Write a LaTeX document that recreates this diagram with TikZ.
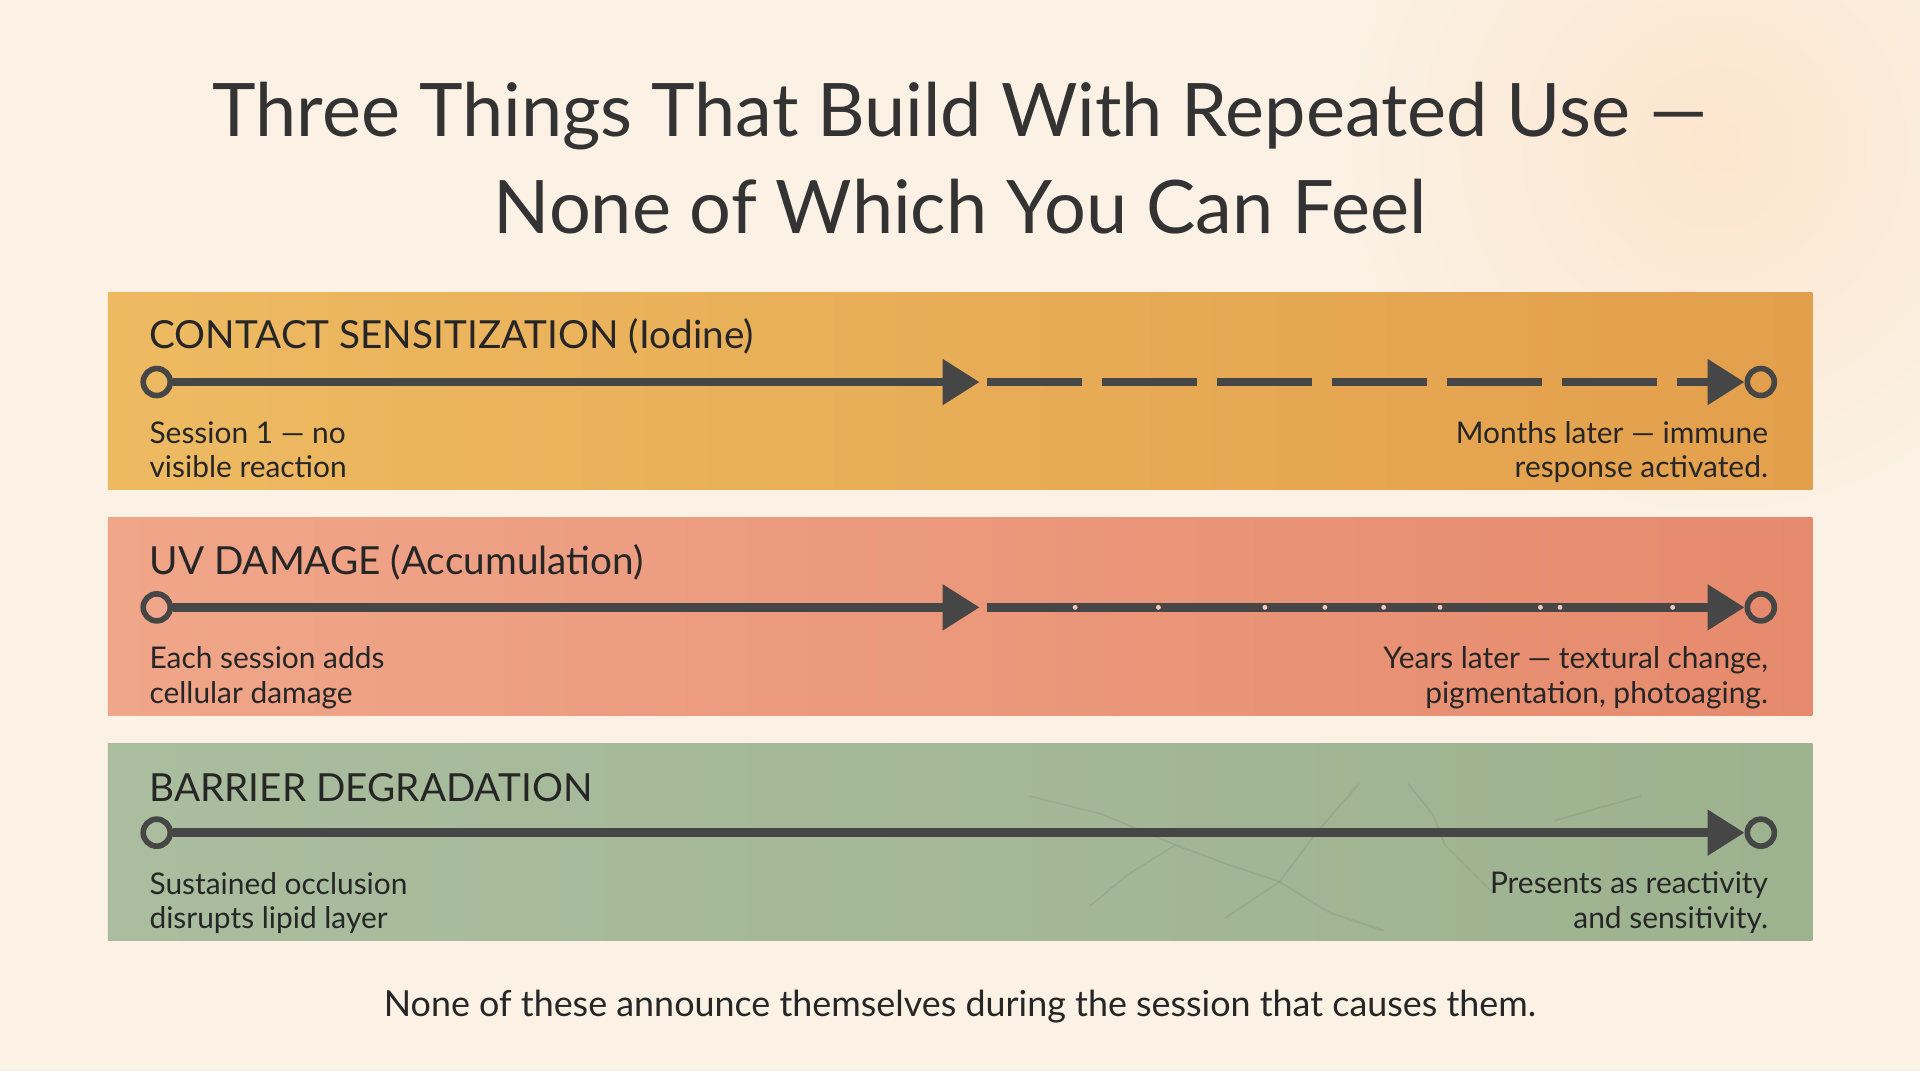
\documentclass[tikz,border=0pt]{standalone}
\usepackage{fontspec}
\setmainfont{Lato}
\usetikzlibrary{arrows.meta,positioning}
\definecolor{cream}{HTML}{FBF1E4}
\definecolor{ink}{HTML}{464646}
\definecolor{orangeA}{HTML}{EDBA62}
\definecolor{orangeB}{HTML}{E39F4C}
\definecolor{salmonA}{HTML}{F0A68A}
\definecolor{salmonB}{HTML}{E68A6D}
\definecolor{sageA}{HTML}{AABE9F}
\definecolor{sageB}{HTML}{9DB28F}
\def\xl{88}
\def\xr{1480}
\tikzset{
  heading/.style={anchor=west,font=\fontsize{11}{13}\selectfont,text=black!85},
  note/.style={font=\fontsize{8.5}{9.8}\selectfont,text=black!85,align=left,anchor=north west},
  rnote/.style={note,align=right,anchor=north east},
  track/.style={ink,line width=2.4pt},
  tip/.style={-{Triangle[length=3.7mm,width=4.4mm]}},
  dot/.style={circle,draw=ink,line width=1.6pt,minimum size=2.7mm,inner sep=0pt},
}
\begin{document}
\begin{tikzpicture}[x=0.012245cm,y=-0.012245cm]
\useasboundingbox (0,0) rectangle (1568,875);
\fill[cream] (0,0) rectangle (1568,875);
\shade[inner color=orange!25,outer color=cream,opacity=0.6] (1400,120) circle (300);

% Title
\node[font=\fontsize{21}{27.5}\selectfont,text=black!80,align=center] (title) at (784,129)
  {Three Things That Build With Repeated Use —\\None of Which You Can Feel};

% Bands
\shade[left color=orangeA,right color=orangeB] (\xl,239) rectangle (\xr,400);
\shade[left color=salmonA,right color=salmonB] (\xl,423) rectangle (\xr,584);
\shade[left color=sageA,right color=sageB] (\xl,607) rectangle (\xr,768);

% faint cracks
\foreach \a/\b/\c/\d in {840/650/900/665, 900/665/960/690, 960/690/1000/705, 1000/705/1045/720, 1045/720/1075/680, 1075/680/1110/640, 1045/720/1085/745, 1085/745/1130/760, 1045/720/1000/750, 960/690/920/715, 920/715/890/740, 1150/640/1170/665, 1170/665/1180/690, 1180/690/1220/730, 1270/670/1340/650}
  \draw[ink,opacity=0.1,line width=0.5pt] (\a,\b) -- (\c,\d);

% Band 1
\node[heading] (h1) at (112,275) {CONTACT SENSITIZATION (Iodine)};
\node[dot,fill=orangeA] (s1) at (128,312) {};
\node[dot,fill=orangeB] (e1) at (1438,312) {};
\coordinate (m1) at (800,312);
\coordinate (k1) at (806,312);
\coordinate (t1) at (1398,312);
\draw[track,tip] (s1) -- (m1);
\draw[track,dash pattern=on 0.95cm off 0.2cm] (k1) -- (t1);
\draw[track,tip] (t1) -- (e1);
\node[note] (l1) at (112,334) {Session 1 — no\\visible reaction};
\node[rnote] (r1) at (1454,334) {Months later — immune\\response activated.};

% Band 2
\node[heading] (h2) at (112,459) {UV DAMAGE (Accumulation)};
\node[dot,fill=salmonA] (s2) at (128,496) {};
\node[dot,fill=salmonB] (e2) at (1438,496) {};
\coordinate (m2) at (800,496);
\coordinate (k2) at (806,496);
\draw[track,tip] (s2) -- (m2);
\draw[track,tip] (k2) -- (e2);
\foreach \x in {878,946,1033,1082,1130,1176,1258,1274,1366}
  \fill[salmonA!60!white] (\x,496) circle (2);
\node[note] (l2) at (112,518) {Each session adds\\cellular damage};
\node[rnote] (r2) at (1454,518) {Years later — textural change,\\pigmentation, photoaging.};

% Band 3
\node[heading] (h3) at (112,643) {BARRIER DEGRADATION};
\node[dot,fill=sageA] (s3) at (128,680) {};
\node[dot,fill=sageB] (e3) at (1438,680) {};
\draw[track,tip] (s3) -- (e3);
\node[note] (l3) at (112,702) {Sustained occlusion\\disrupts lipid layer};
\node[rnote] (r3) at (1454,702) {Presents as reactivity\\and sensitivity.};

% Footer
\node[font=\fontsize{10.2}{12}\selectfont,text=black!85] (foot) at (784,822)
  {None of these announce themselves during the session that causes them.};
\end{tikzpicture}
\end{document}
